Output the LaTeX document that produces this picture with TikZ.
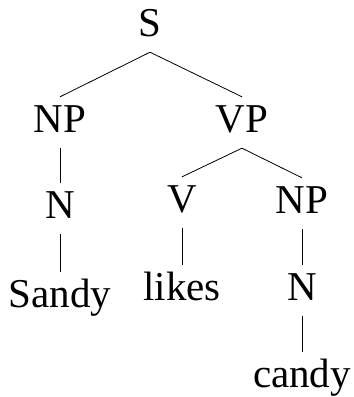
\documentclass[tikz,border=0pt]{standalone}
\usepackage{fontspec}
\setmainfont{Liberation Serif}
\usepackage{tikz}

\tikzset{
    cat/.style={anchor=base, inner xsep=0pt, inner ysep=7pt,
        text height=28pt, text depth=9pt,
        font=\fontsize{41}{49}\selectfont},
    branch/.style={line width=0.8pt}
}

\begin{document}
\begin{tikzpicture}[x=1pt, y=-1pt]
    \useasboundingbox (0,0) rectangle (354,397);

    % Root
    \node[cat] (s) at (150,36) {S};

    % Subject
    \node[cat] (np1) at (60,132) {NP};
    \node[cat] (n1) at (60,218) {N};
    \node[cat] (sandy) at (60,307) {Sandy};

    % Predicate
    \node[cat] (vp) at (242,132) {VP};
    \node[cat] (v) at (182,212) {V};
    \node[cat] (likes) at (182,300) {likes};
    \node[cat] (np2) at (302,213) {NP};
    \node[cat] (n2) at (302,300) {N};
    \node[cat] (candy) at (302,387) {candy};

    \draw[branch] (s.south) -- (np1.north);
    \draw[branch] (s.south) -- (vp.north);
    \draw[branch] (np1.south) -- (n1.north);
    \draw[branch] (n1.south) -- (sandy.north);
    \draw[branch] (vp.south) -- (v.north);
    \draw[branch] (vp.south) -- (np2.north);
    \draw[branch] (v.south) -- (likes.north);
    \draw[branch] (np2.south) -- (n2.north);
    \draw[branch] (n2.south) -- (candy.north);

\end{tikzpicture}
\end{document}
